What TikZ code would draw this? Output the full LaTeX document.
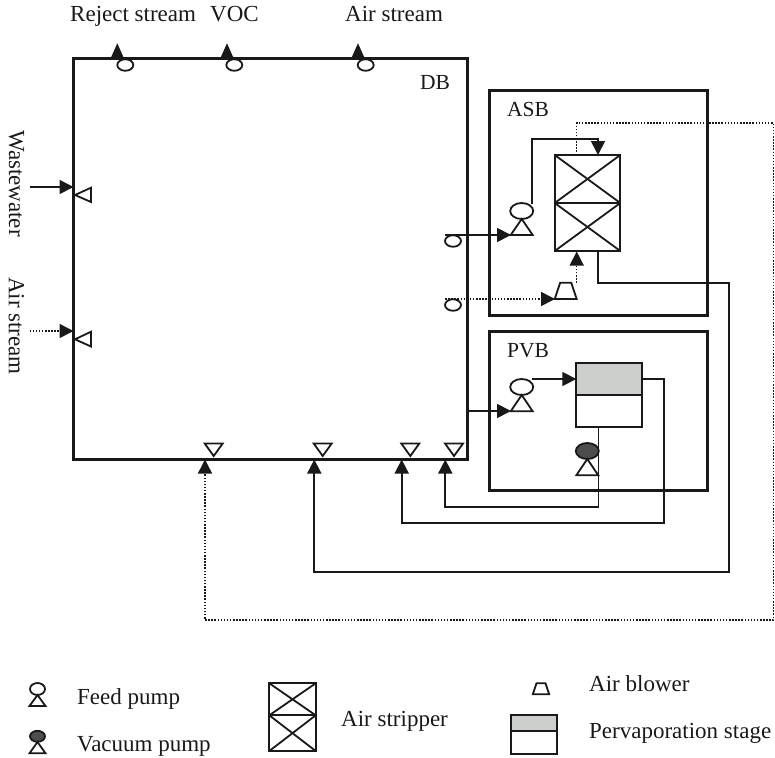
\documentclass[tikz,border=0pt]{standalone}
\usepackage{fontspec}
\setmainfont{Liberation Serif}
\usetikzlibrary{arrows.meta,shapes.geometric}
\definecolor{stagegray}{HTML}{CCCECC}
\definecolor{vacdark}{HTML}{4D4D4D}
\tikzset{
  x=1pt,y=-1pt,
  bigbox/.style={draw=black!90,line width=3pt,inner sep=0pt,fill=none,rectangle},
  symline/.style={draw=black!90,line width=1.8pt},
  oval/.style={draw=black!90,line width=1.8pt,ellipse,inner sep=0pt,fill=white},
  portoval/.style={oval,minimum width=16pt,minimum height=11.5pt},
  pumpoval/.style={oval,minimum width=23pt,minimum height=16pt},
  flow/.style={draw=black!90,line width=1.7pt,-{Triangle[length=14pt,width=14pt]}},
  dotflow/.style={draw=black!90,line width=1.5pt,dash pattern=on 1.5pt off 1.6pt,-{Triangle[length=14pt,width=14pt,sep=0pt]}},
  lab/.style={font=\fontsize{23}{26}\selectfont,anchor=base west,inner sep=0pt,text=black!90},
  boxlab/.style={font=\fontsize{21.5}{24}\selectfont,anchor=base west,inner sep=0pt,text=black!90},
  rotlab/.style={font=\fontsize{23}{26}\selectfont,rotate=-90,inner sep=0pt,text=black!90},
}
\newcommand{\uptri}[4]{\draw[symline,line join=miter] (#1,#2) -- (#1-#3,#4) -- (#1+#3,#4) -- cycle;}
\newcommand{\trap}[5]{\draw[symline] (#1-#2,#3) -- (#1+#2,#3) -- (#1+#4,#5) -- (#1-#4,#5) -- cycle;}
\newcommand{\xbox}[5]{%
  \draw[symline] (#1,#3) rectangle (#2,#5);
  \draw[symline] (#1,#4) -- (#2,#4);
  \draw[symline] (#1,#3) -- (#2,#4) (#2,#3) -- (#1,#4) (#1,#4) -- (#2,#5) (#2,#4) -- (#1,#5);}
\begin{document}
\begin{tikzpicture}
\useasboundingbox (0,0) rectangle (775,757);
% main boxes
\node[bigbox,minimum width=393.5pt,minimum height=400pt] (DB) at (270.25,259) {};
\node[bigbox,minimum width=218.7pt,minimum height=224pt] (ASB) at (598.35,203) {};
\node[bigbox,minimum width=218.7pt,minimum height=159.7pt] (PVB) at (598.35,410.85) {};
% labels
\node[lab] (l1) at (70,21.7) {Reject stream};
\node[lab] (l2) at (210,21.7) {VOC};
\node[lab] (l3) at (345,21.7) {Air stream};
\node[boxlab] (ldb) at (420,90) {DB};
\node[boxlab] (lasb) at (507,117) {ASB};
\node[boxlab] (lpvb) at (507,357) {PVB};
\node[rotlab] (lww) at (16.5,183.5) {Wastewater};
\node[rotlab] (las) at (16.5,326) {Air stream};
% port ovals
\node[portoval] (t1) at (125.3,65) {};
\node[portoval] (t2) at (234.3,65) {};
\node[portoval] (t3) at (365.7,65) {};
\node[portoval] (r1) at (453,241) {};
\node[portoval] (r2) at (453,305) {};
% triangles on left side
\draw[symline] (75,195) -- (91,187.7) -- (91,202) -- cycle;
\draw[symline] (75,339.3) -- (91,331.7) -- (91,346.5) -- cycle;
% triangles on the bottom
\foreach \tx in {213.7,322.7,410.3,454} {\draw[symline] (\tx,456) -- (\tx-9,443.5) -- (\tx+9,443.5) -- cycle;}
% ASB equipment
\xbox{554.7}{620.3}{155}{203}{251}
\node[pumpoval] (p1) at (521.7,211) {};
\uptri{521.7}{219}{11}{235}
\trap{565.7}{5.5}{282.7}{11}{299}
% PVB equipment
\draw[symline,fill=stagegray] (576.3,363.3) rectangle (642,395);
\draw[symline] (576.3,395) rectangle (642,427);
\node[pumpoval] (p2) at (521.7,387) {};
\uptri{521.7}{395}{11}{411.3}
\node[pumpoval,fill=vacdark] (p3) at (587.3,451) {};
\uptri{587.3}{459}{11}{475.3}
% coordinates
\coordinate (tup1b) at (117.3,43.3);
\coordinate (tup2b) at (227,43.3);
\coordinate (tup3b) at (358,43.3);
\coordinate (wwa) at (29.5,187);\coordinate (wwb) at (73.5,187);
\coordinate (asa) at (29.5,331);\coordinate (asb) at (73.5,331);
\coordinate (r1s) at (445,235);\coordinate (p1in) at (511,235);
\coordinate (r2s) at (445,299);\coordinate (blin) at (555,299);
\coordinate (p1o) at (532.3,204);\coordinate (p1c) at (532.3,139);\coordinate (sttop) at (598,155);
\coordinate (bltop) at (576.7,282.7);\coordinate (stbot) at (576.7,251.5);
\coordinate (dos) at (576.7,155);\coordinate (doa) at (576.7,123);\coordinate (dob) at (773.5,123);
\coordinate (doc) at (773.5,620);\coordinate (dod) at (205,620);\coordinate (doe) at (205,459.5);
\coordinate (sos) at (598,251);\coordinate (soa) at (598,283);\coordinate (sob) at (729,283);
\coordinate (soc) at (729,572);\coordinate (sod) at (314.3,572);\coordinate (soe) at (314.3,459.5);
\coordinate (dbo) at (467,411);\coordinate (p2in) at (511,411);
\coordinate (p2o) at (532,379);\coordinate (pvin) at (576.3,379);
\coordinate (vs) at (598.5,427);\coordinate (va) at (598.5,507.3);\coordinate (vb) at (445.3,507.3);\coordinate (vc) at (445.3,459.5);
\coordinate (rs) at (642,379);\coordinate (ra) at (664,379);\coordinate (rb) at (664,523.3);\coordinate (rc) at (401.7,523.3);\coordinate (rd) at (401.7,459.5);
% connectors
\fill[black!90] (tup1b) ++(-7,15.7) -- ++(14,0) -- (tup1b) -- cycle;
\fill[black!90] (tup2b) ++(-7,15.7) -- ++(14,0) -- (tup2b) -- cycle;
\fill[black!90] (tup3b) ++(-7,15.7) -- ++(14,0) -- (tup3b) -- cycle;
\draw[flow] (wwa) -- (wwb);
\draw[dotflow] (asa) -- (asb);
\draw[flow] (r1s) -- (p1in);
\draw[dotflow] (r2s) -- (blin);
\draw[flow] (p1o) -- (p1c) -- (sttop |- p1c) -- (sttop);
\draw[dotflow] (bltop) -- (stbot);
\draw[dotflow] (dos) -- (doa) -- (dob) -- (doc) -- (dod) -- (doe);
\draw[flow] (sos) -- (soa) -- (sob) -- (soc) -- (sod) -- (soe);
\draw[flow] (dbo) -- (p2in);
\draw[flow] (p2o) -- (pvin);
\draw[flow] (vs) -- (va) -- (vb) -- (vc);
\draw[flow] (rs) -- (ra) -- (rb) -- (rc) -- (rd);
% legend
\node[oval,minimum width=15pt,minimum height=12pt] (lg1) at (37.5,689) {};
\uptri{37.5}{695}{8}{706}
\node[lab] (lgt1) at (77,704) {Feed pump};
\node[oval,fill=vacdark,minimum width=15pt,minimum height=11pt] (lg2) at (37.5,736.3) {};
\uptri{37.5}{742}{8}{753.3}
\node[lab] (lgt2) at (77,751.7) {Vacuum pump};
\xbox{269.3}{315.7}{683.3}{715.3}{751}
\node[lab] (lgt3) at (341,726) {Air stripper};
\trap{541}{4.5}{683.3}{8.2}{694.3}
\node[lab] (lgt4) at (589,691.7) {Air blower};
\draw[symline,fill=stagegray] (510.7,715) rectangle (557.3,731);
\draw[symline] (510.7,731) rectangle (557.3,754);
\node[lab] (lgt5) at (589,738) {Pervaporation stage};
\end{tikzpicture}
\end{document}
